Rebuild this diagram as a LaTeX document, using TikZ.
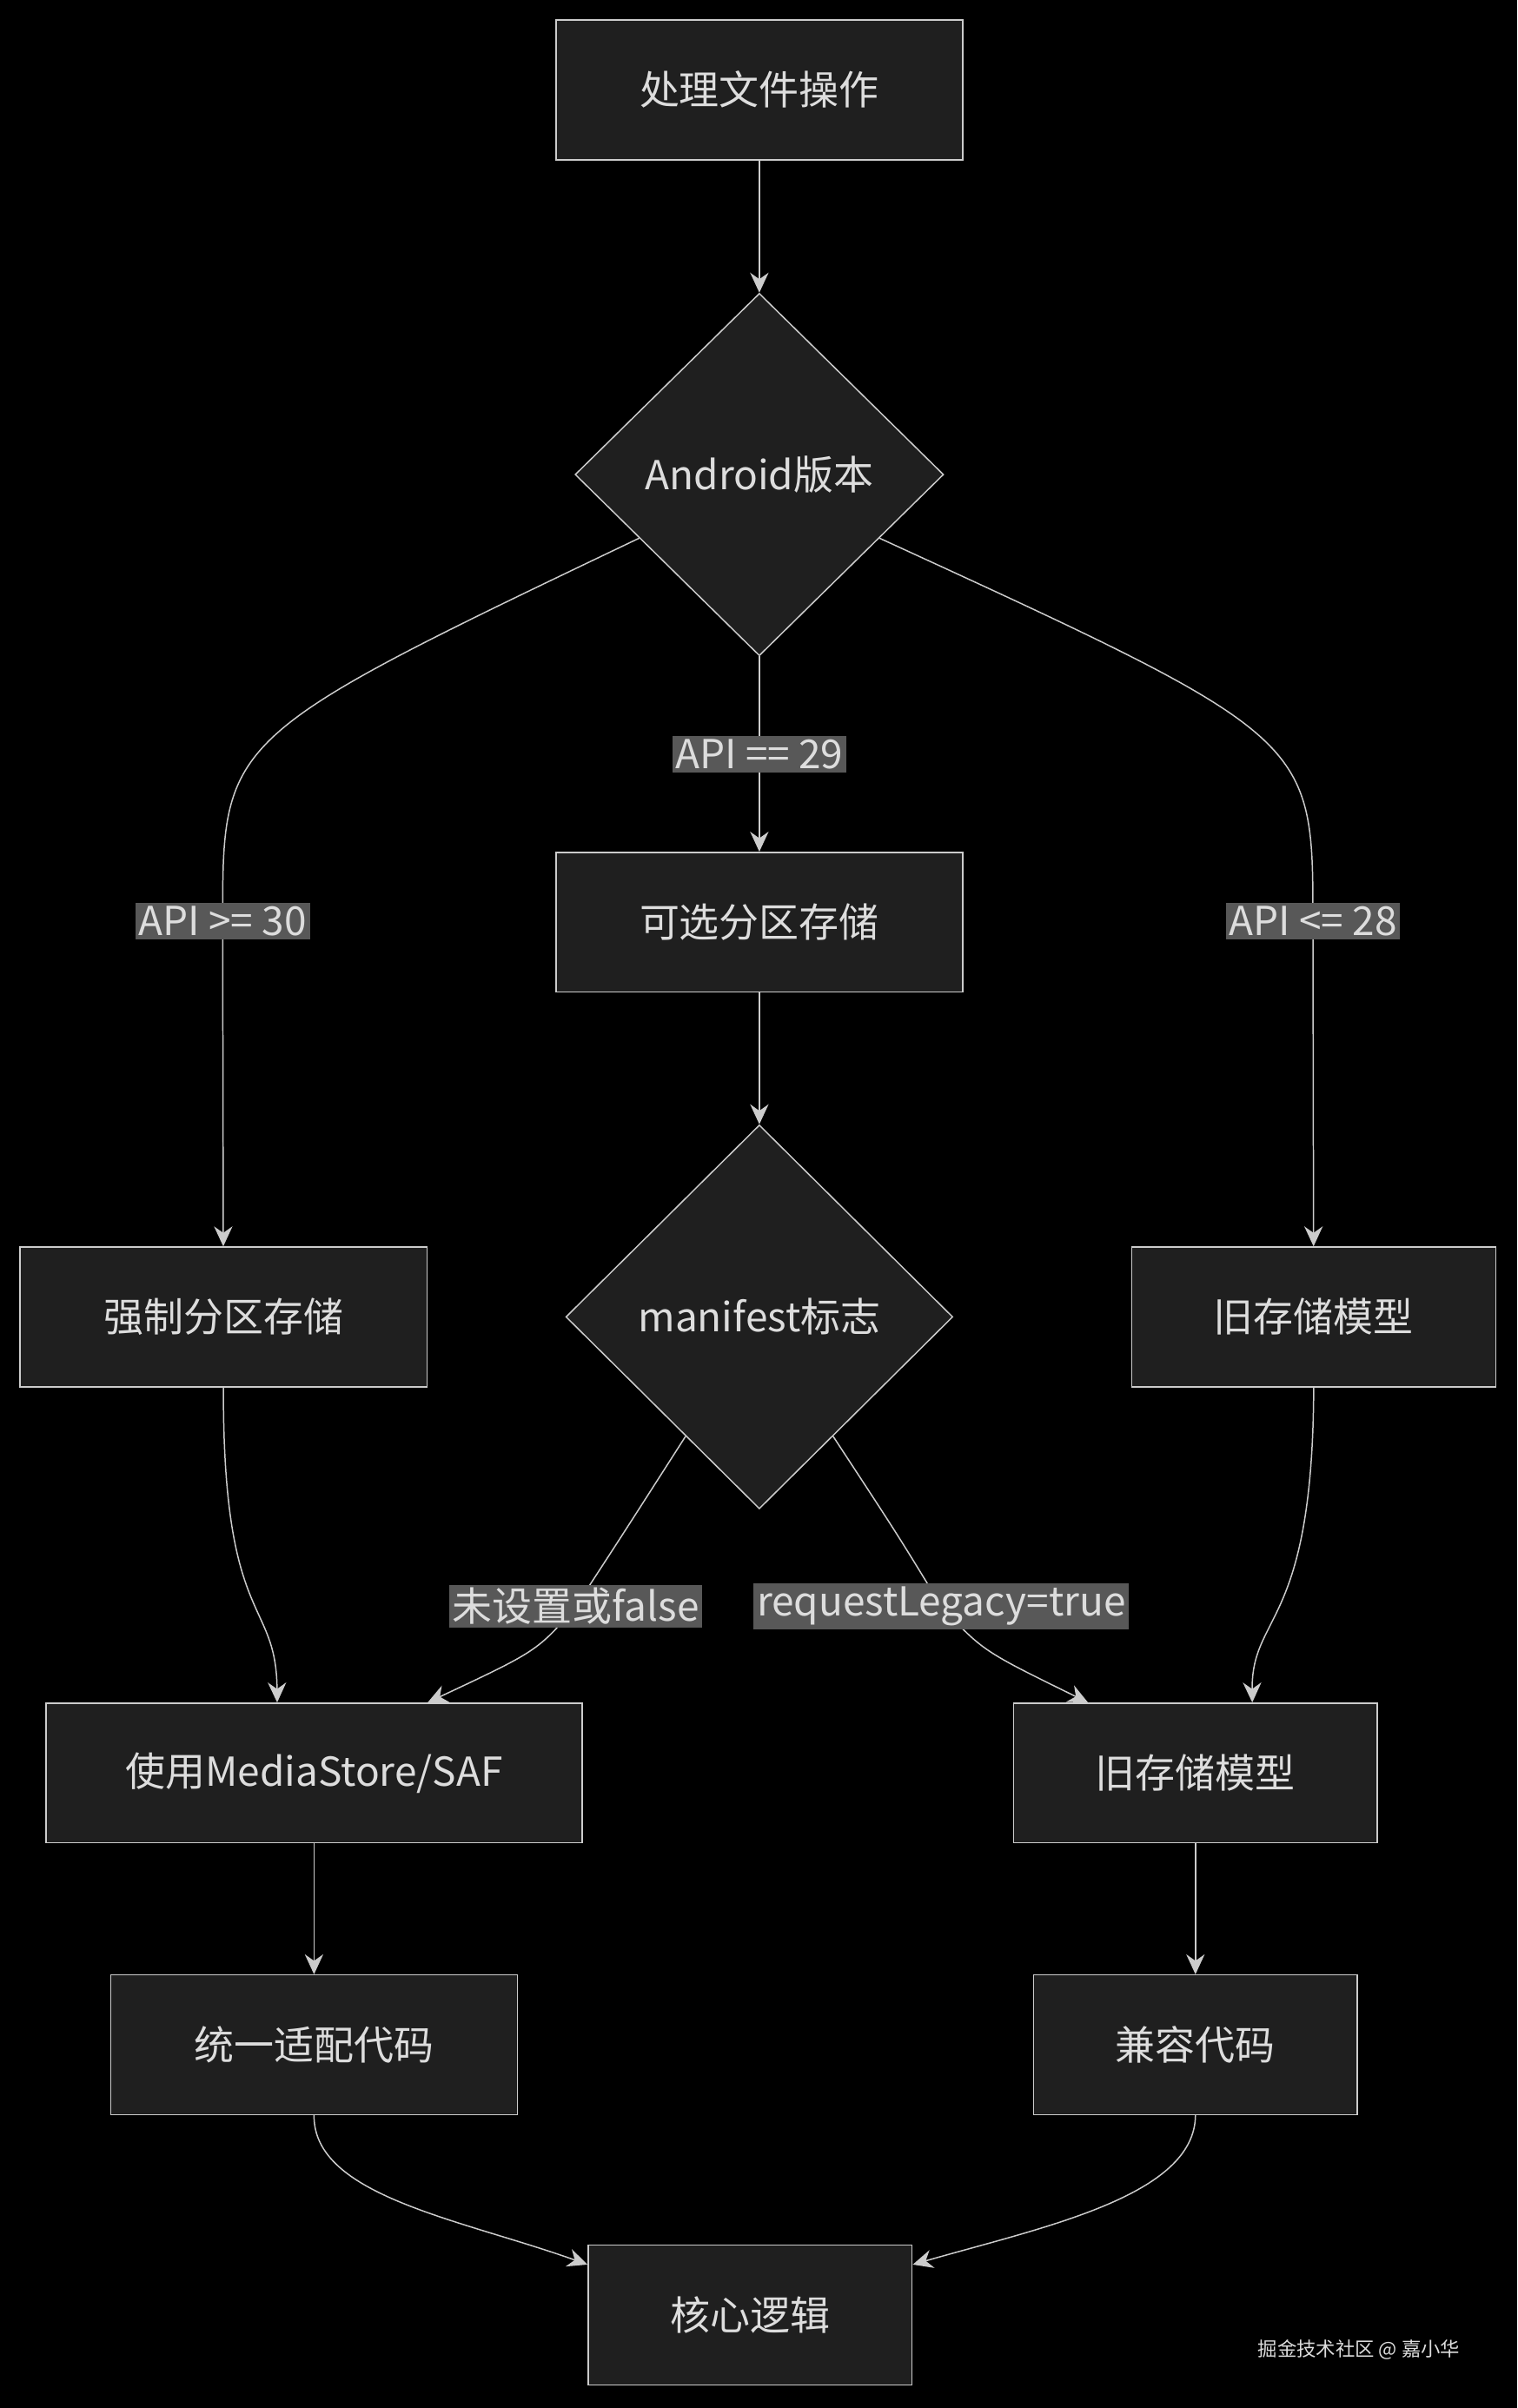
\documentclass[tikz,border=0pt]{standalone}
\usepackage{fontspec}
\setmainfont{Noto Sans CJK SC}
\usetikzlibrary{shapes.geometric,calc,arrows.meta}
\definecolor{bgc}{HTML}{000000}
\definecolor{boxc}{HTML}{1F1F1F}
\definecolor{linec}{HTML}{CCCCCC}
\definecolor{txtc}{HTML}{DDDDDD}
\definecolor{labc}{HTML}{585858}
\begin{document}
\begin{tikzpicture}[x=0.05cm, y=-0.05cm,
  box/.style={draw=linec, fill=boxc, line width=1.2pt, text=txtc, minimum height=4.55cm, inner sep=0pt, font=\fontsize{37}{42}\selectfont},
  dia/.style={draw=linec, fill=boxc, line width=1.2pt, diamond, text=txtc, inner sep=0pt, font=\fontsize{37}{42}\selectfont},
  lab/.style={fill=labc, text=txtc, inner sep=3pt, font=\fontsize{37}{42}\selectfont},
  arr/.style={draw=linec, line width=1.2pt, -{Stealth[length=0.65cm, width=0.6cm]}}]

\fill[bgc] (0,0) rectangle (988,1568);

% nodes
\node[box, minimum width=13.25cm] (start) at (494.5,58.5) {处理文件操作};
\node[dia, minimum width=12cm, minimum height=11.8cm] (ver) at (494.5,309) {Android版本};
\node[box, minimum width=13.25cm] (opt) at (494.5,600.5) {可选分区存储};
\node[dia, minimum width=12.6cm, minimum height=12.5cm] (mani) at (494.5,857.5) {manifest标志};
\node[box, minimum width=13.25cm] (force) at (145.5,857.5) {强制分区存储};
\node[box, minimum width=11.85cm] (oldA) at (855.5,857.5) {旧存储模型};
\node[box, minimum width=17.45cm] (media) at (204.5,1154.5) {使用MediaStore/SAF};
\node[box, minimum width=11.85cm] (oldB) at (778.5,1154.5) {旧存储模型};
\node[box, minimum width=13.25cm] (unify) at (204.5,1331.5) {统一适配代码};
\node[box, minimum width=10.55cm] (compat) at (778.5,1331.5) {兼容代码};
\node[box, minimum width=10.55cm] (core) at (488.5,1507.5) {核心逻辑};

% connectors
\draw[arr] (start) -- (ver);
\draw[arr] (ver.south) -- node[lab, pos=.5] {API == 29} (opt);
\draw[arr] ($(ver.west)!0.35!(ver.south)$) .. controls (145,480) .. (145,600) node[lab] {API >= 30} -- (force);
\draw[arr] ($(ver.east)!0.35!(ver.south)$) .. controls (855,480) .. (855,600) node[lab] {API <= 28} -- (oldA);
\draw[arr] (opt) -- (mani);
\draw[arr] ($(mani.west)!0.62!(mani.south)$) .. controls (405,1000) .. (375,1046) node[lab] {未设置或false} .. controls (350,1075) .. ($(media.north)+(74,0)$);
\draw[arr] ($(mani.east)!0.62!(mani.south)$) .. controls (585,1000) .. (613,1046) node[lab] {requestLegacy=true} .. controls (640,1075) .. ($(oldB.north)+(-70,0)$);
\draw[arr] (force.south) .. controls (145,1060) and (180,1040) .. ($(media.north)+(-24,0)$);
\draw[arr] (oldA.south) .. controls (855,1060) and (815,1050) .. ($(oldB.north)+(37,0)$);
\draw[arr] (media) -- (unify);
\draw[arr] (oldB) -- (compat);
\draw[arr] (unify.south) .. controls (204,1430) and (300,1445) .. ($(core.north west)+(0,13)$);
\draw[arr] (compat.south) .. controls (778,1430) and (680,1450) .. ($(core.north east)+(0,13)$);

\node[text=txtc, font=\fontsize{18}{20}\selectfont] (mark) at (885,1530) {掘金技术社区 @ 嘉小华};
\end{tikzpicture}
\end{document}
